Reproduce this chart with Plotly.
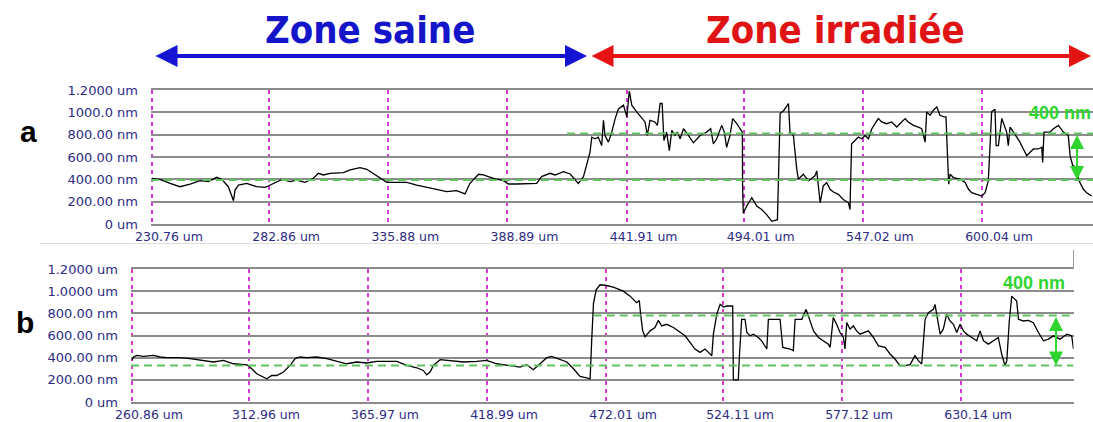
import plotly.graph_objects as go

W, H = 1093, 422

# ---- profile a: lateral position (um) / height (nm) ----
pos_a = [230.76, 234.3, 238.8, 243.2, 247.7, 252.1, 255.8, 259.5, 261.8, 264.7, 267.0, 267.7, 269.2, 272.9,
         277.3, 281.0, 282.5, 284.7, 288.5, 292.2, 295.1, 298.8, 302.5, 304.8, 307.0, 310.0, 315.9, 318.9,
         323.3, 326.3, 329.2, 332.2, 335.2, 339.6, 344.1, 348.5, 353.0, 357.4, 361.9, 366.3, 370.0, 372.2,
         376.0, 378.2, 382.6, 387.1, 389.3, 393.0, 397.5, 401.9, 404.1, 407.8, 410.1, 413.8, 416.8, 420.4,
         422.7, 424.1, 425.6, 426.4, 427.9, 429.3, 430.8, 431.6, 432.3, 433.8, 435.3, 436.8, 438.2, 440.5,
         442.0, 443.1, 444.2, 446.4, 448.6, 450.1, 451.1, 452.3, 454.5, 455.6, 456.8, 457.7, 458.5, 459.7,
         460.9, 462.0, 463.4, 464.5, 465.7, 467.2, 469.4, 471.6, 474.6, 477.5, 479.3, 480.5, 482.0, 484.2,
         485.4, 486.4, 487.9, 489.1, 490.9, 492.4, 493.4, 493.5, 493.8, 495.3, 497.6, 499.8, 502.0, 504.2,
         506.5, 509.0, 509.4, 510.2, 511.9, 513.9, 514.6, 516.1, 517.6, 518.3, 520.5, 522.8, 525.7, 526.5,
         527.2, 528.0, 529.4, 530.9, 532.4, 533.9, 536.1, 538.3, 540.6, 541.3, 541.6, 542.0, 543.5, 545.0,
         546.5, 548.0, 549.5, 551.0, 552.4, 553.9, 555.4, 557.6, 559.8, 562.1, 563.5, 565.8, 567.2, 569.5,
         571.7, 573.2, 574.7, 575.4, 576.9, 578.4, 579.9, 581.3, 583.1, 584.0, 584.6, 585.2, 585.8, 587.3,
         590.2, 592.5, 594.0, 595.4, 597.7, 599.9, 601.4, 602.8, 603.6, 604.3, 605.1, 605.8, 606.3, 607.3,
         608.8, 610.3, 611.0, 611.7, 612.5, 614.0, 615.5, 616.9, 618.4, 619.9, 622.9, 625.1, 626.6, 627.0,
         627.6, 630.3, 631.8, 634.0, 636.2, 638.4, 639.2, 640.4, 642.1, 642.9, 645.1, 646.6, 648.8]
height_a = [409, 400, 364, 334, 358, 388, 379, 418, 400, 334, 209, 304, 349, 364,
            334, 328, 340, 364, 400, 379, 394, 373, 409, 454, 439, 454, 460, 484,
            504, 490, 454, 409, 373, 373, 373, 349, 328, 310, 290, 299, 269, 364,
            445, 439, 409, 388, 358, 358, 358, 364, 424, 454, 439, 469, 448, 364,
            424, 522, 642, 778, 763, 778, 702, 929, 793, 733, 823, 944, 1028, 1064,
            959, 1191, 1064, 1004, 944, 914, 793, 929, 914, 883, 1079, 1079, 748, 823,
            657, 838, 793, 823, 763, 853, 793, 727, 793, 823, 853, 718, 763, 883,
            823, 687, 793, 944, 898, 853, 823, 341, 99, 160, 235, 160, 130, 84,
            24, 39, 341, 989, 1019, 1079, 823, 793, 491, 401, 446, 386, 431, 476,
            341, 190, 341, 371, 311, 286, 265, 220, 190, 130, 401, 718, 748, 778,
            763, 793, 763, 853, 898, 944, 914, 898, 914, 868, 898, 944, 914, 883,
            868, 853, 733, 1004, 974, 1019, 1049, 974, 959, 959, 642, 356, 446, 416,
            401, 371, 311, 280, 265, 250, 280, 386, 702, 1004, 1019, 1028, 702, 702,
            944, 853, 823, 702, 868, 823, 778, 733, 672, 612, 672, 672, 687, 552,
            823, 823, 853, 883, 823, 793, 612, 522, 507, 401, 311, 280, 250]

# ---- profile b ----
pos_b = [260.86, 261.5, 263.0, 265.9, 270.4, 273.3, 276.3, 282.3, 286.7, 291.2, 297.1, 301.6, 306.0, 312.0,
         314.2, 316.4, 320.9, 323.1, 325.3, 328.3, 331.3, 333.5, 335.7, 338.7, 343.1, 347.6, 352.0, 356.5,
         360.9, 365.4, 369.8, 378.8, 383.2, 387.7, 390.6, 392.1, 393.6, 395.1, 398.1, 402.5, 408.5, 414.4,
         418.8, 423.3, 429.2, 433.7, 436.7, 439.6, 442.6, 445.6, 447.8, 450.8, 454.5, 457.5, 460.4, 463.4,
         464.9, 465.6, 466.4, 467.6, 469.3, 472.3, 475.2, 479.7, 482.7, 485.6, 486.8, 487.4, 488.3, 489.4,
         491.6, 493.8, 495.3, 496.8, 499.0, 502.0, 505.0, 507.2, 509.4, 511.6, 513.9, 516.1, 517.6, 519.1,
         519.8, 521.3, 522.8, 524.3, 525.7, 528.4, 528.7, 530.9, 531.4, 532.4, 533.9, 534.7, 536.1, 537.6,
         539.8, 541.3, 543.6, 544.3, 549.5, 550.7, 554.0, 555.4, 556.2, 559.2, 561.1, 562.9, 564.4, 566.6,
         568.8, 571.0, 571.8, 573.2, 574.7, 576.2, 577.7, 578.4, 579.2, 580.7, 582.1, 583.6, 585.1, 586.6,
         588.8, 591.1, 593.3, 596.3, 598.5, 600.7, 602.9, 605.2, 607.4, 609.6, 611.1, 612.6, 614.1, 615.6,
         617.0, 617.8, 618.5, 619.3, 620.8, 622.2, 623.7, 625.2, 626.7, 628.2, 629.7, 631.2, 632.6, 634.9,
         637.1, 638.6, 640.1, 642.3, 644.5, 646.7, 648.2, 649.7, 650.5, 651.6, 652.7, 654.9, 655.7, 657.9,
         660.1, 662.3, 664.6, 666.8, 669.0, 671.3, 674.2, 677.2, 679.4, 680.2]
height_b = [376, 406, 421, 412, 421, 406, 400, 400, 391, 376, 361, 376, 345, 336,
            300, 255, 209, 239, 239, 270, 330, 391, 406, 400, 406, 391, 370, 345,
            361, 352, 367, 367, 330, 309, 285, 245, 270, 330, 382, 376, 361, 367,
            376, 345, 330, 315, 336, 291, 345, 400, 412, 391, 361, 300, 230, 218,
            209, 558, 891, 1012, 1058, 1051, 1036, 1000, 955, 896, 916, 791, 642, 588,
            642, 672, 737, 687, 701, 672, 627, 597, 537, 478, 448, 478, 448, 418,
            612, 791, 881, 857, 866, 866, 200, 200, 418, 746, 746, 627, 597, 612,
            582, 552, 478, 746, 746, 493, 478, 463, 746, 746, 836, 731, 642, 582,
            552, 522, 493, 761, 701, 627, 582, 478, 716, 657, 687, 642, 612, 627,
            642, 582, 507, 493, 433, 388, 328, 328, 337, 418, 373, 343, 746, 806,
            821, 836, 881, 776, 612, 657, 791, 731, 701, 627, 701, 642, 612, 582,
            552, 642, 552, 522, 552, 582, 433, 328, 373, 731, 955, 910, 746, 731,
            737, 716, 627, 552, 567, 597, 567, 612, 597, 478]

ticks_a = [230.76, 282.86, 335.88, 388.89, 441.91, 494.01, 547.02, 600.04]
ticks_b = [260.86, 312.96, 365.97, 418.99, 472.01, 524.11, 577.12, 630.14]
height_ticks = [0, 200, 400, 600, 800, 1000, 1200]
height_text_a = ["0 um", "200.00 nm", "400.00 nm", "600.00 nm", "800.00 nm", "1000.0 nm", "1.2000 um"]
height_text_b = ["0 um", "200.00 nm", "400.00 nm", "600.00 nm", "800.00 nm", "1.0000 um", "1.2000 um"]

# reference levels (nm) and where the upper level begins (um)
levels_a = [395, 810]
upper_start_a = 415.4
levels_b = [330, 780]
upper_start_b = 466.5
step_text = "400 nm"

zones = ["Zone saine", "Zone irradiée"]


def fx(p):
    return p / W


def fy(p):
    return 1 - p / H


TICK_FONT = dict(family="DejaVu Sans", size=13, color="#2c2c84")
XTICK_FONT = dict(family="DejaVu Sans", size=12.5, color="#2c2c84")
GRID = "#8c8c8c"
MAGENTA = "#d63ad6"
DASH_GREEN = "#62c262"
BRIGHT_GREEN = "#2fd42f"
HEAD_FONT = "Liberation Sans Narrow, DejaVu Sans Condensed, Liberation Sans"

fig = go.Figure()
fig.add_trace(go.Scatter(x=pos_a, y=height_a, mode="lines", line=dict(color="black", width=1.3),
                         xaxis="x", yaxis="y", showlegend=False, hoverinfo="skip"))
fig.add_trace(go.Scatter(x=pos_b, y=height_b, mode="lines", line=dict(color="black", width=1.3),
                         xaxis="x2", yaxis="y2", showlegend=False, hoverinfo="skip"))


def xaxis(domain, rng, vals):
    return dict(domain=domain, range=rng, tickvals=vals, ticktext=[f"{v:.2f} um" for v in vals],
                showgrid=True, gridcolor=MAGENTA, gridwidth=2, griddash="4px,4px",
                showline=True, mirror=True, linecolor=GRID, linewidth=1.5,
                ticks="", tickfont=XTICK_FONT, ticklabelshift=17, ticklabelstandoff=0,
                zeroline=False, fixedrange=True, automargin=False)


def yaxis(domain, anchor, text):
    return dict(domain=domain, range=[0, 1200], tickvals=height_ticks, ticktext=text,
                showgrid=True, gridcolor=GRID, gridwidth=1.5, showline=False,
                ticks="", tickfont=TICK_FONT, ticklabelstandoff=12, anchor=anchor,
                zeroline=False, fixedrange=True, automargin=False)


xa_left = 151
xb_left = 131
fig.update_layout(
    width=W, height=H, margin=dict(l=0, r=0, t=0, b=0, autoexpand=False),
    paper_bgcolor="white", plot_bgcolor="white", showlegend=False,
    xaxis=xaxis([fx(xa_left), 1.0], [230.3, 230.3 + (W - xa_left) * 0.4449], ticks_a) | dict(anchor="y"),
    yaxis=yaxis([fy(224), fy(90)], "x", height_text_a),
    xaxis2=xaxis([fx(xb_left), fx(1073.5)], [260.4, 680.2], ticks_b) | dict(anchor="y2"),
    yaxis2=yaxis([fy(402), fy(269)], "x2", height_text_b),
)

shapes = []
# green reference levels
for xr, yr, levels, start, end in [("x", "y", levels_a, upper_start_a, 650),
                                   ("x2", "y2", levels_b, upper_start_b, 680.2)]:
    x0 = fig.layout[xr.replace("x", "xaxis")].range[0]
    shapes.append(dict(type="line", xref=xr, yref=yr, x0=x0, x1=end, y0=levels[0], y1=levels[0],
                       line=dict(color=DASH_GREEN, width=2, dash="8px,5px")))
    shapes.append(dict(type="line", xref=xr, yref=yr, x0=start, x1=end, y0=levels[1], y1=levels[1],
                       line=dict(color=DASH_GREEN, width=2, dash="8px,5px")))
# thin separator under panel a and frame edge of panel b
shapes.append(dict(type="line", xref="paper", yref="paper", x0=fx(40), x1=1, y0=fy(243.5), y1=fy(243.5),
                   line=dict(color="#dcdcdc", width=1)))
shapes.append(dict(type="line", xref="paper", yref="paper", x0=fx(1073.5), x1=fx(1073.5), y0=fy(269), y1=fy(250),
                   line=dict(color="#9a9a9a", width=1)))
fig.update_layout(shapes=shapes)

ann = []
# zone headers and arrows
ann.append(dict(text=f"<b>{zones[0]}</b>", x=fx(370), y=fy(30), xref="paper", yref="paper", showarrow=False,
                xanchor="center", yanchor="middle",
                font=dict(family=HEAD_FONT, size=38, color="#1414c8")))
ann.append(dict(text=f"<b>{zones[1]}</b>", x=fx(835), y=fy(30), xref="paper", yref="paper", showarrow=False,
                xanchor="center", yanchor="middle",
                font=dict(family=HEAD_FONT, size=38, color="#e01414")))
ann.append(dict(text="", x=fx(587), y=fy(56), xref="paper", yref="paper", ax=-(587 - 154), ay=0,
                showarrow=True, arrowside="end+start", arrowhead=2, arrowsize=1.1, arrowwidth=4,
                arrowcolor="#1414d2", standoff=0, startstandoff=0))
ann.append(dict(text="", x=fx(1091), y=fy(56), xref="paper", yref="paper", ax=-(1091 - 590), ay=0,
                showarrow=True, arrowside="end+start", arrowhead=2, arrowsize=1.1, arrowwidth=4,
                arrowcolor="#e41414", standoff=0, startstandoff=0))
# panel letters
ann.append(dict(text="<b>a</b>", x=fx(28), y=fy(131), xref="paper", yref="paper", showarrow=False,
                xanchor="center", yanchor="middle",
                font=dict(family="Liberation Sans", size=30, color="black")))
ann.append(dict(text="<b>b</b>", x=fx(25), y=fy(322), xref="paper", yref="paper", showarrow=False,
                xanchor="center", yanchor="middle",
                font=dict(family="Liberation Sans", size=30, color="black")))
# step height markers
for xr, yr, levels, xpos, lab_x, lab_y in [("x", "y", levels_a, 642.3, 634.5, 994),
                                           ("x2", "y2", levels_b, 672.4, 662.6, 1073)]:
    ann.append(dict(text="", x=xpos, y=levels[0], xref=xr, yref=yr, ax=xpos, ay=levels[1],
                    axref=xr, ayref=yr, showarrow=True, arrowside="end+start", arrowhead=2,
                    arrowsize=1.4, arrowwidth=2, arrowcolor=BRIGHT_GREEN, standoff=0, startstandoff=0))
    ann.append(dict(text=f"<b>{step_text}</b>", x=lab_x, y=lab_y, xref=xr, yref=yr, showarrow=False,
                    xanchor="center", yanchor="middle",
                    font=dict(family="Liberation Sans", size=18, color=BRIGHT_GREEN)))
fig.update_layout(annotations=ann)

fig.write_html("out.html")
